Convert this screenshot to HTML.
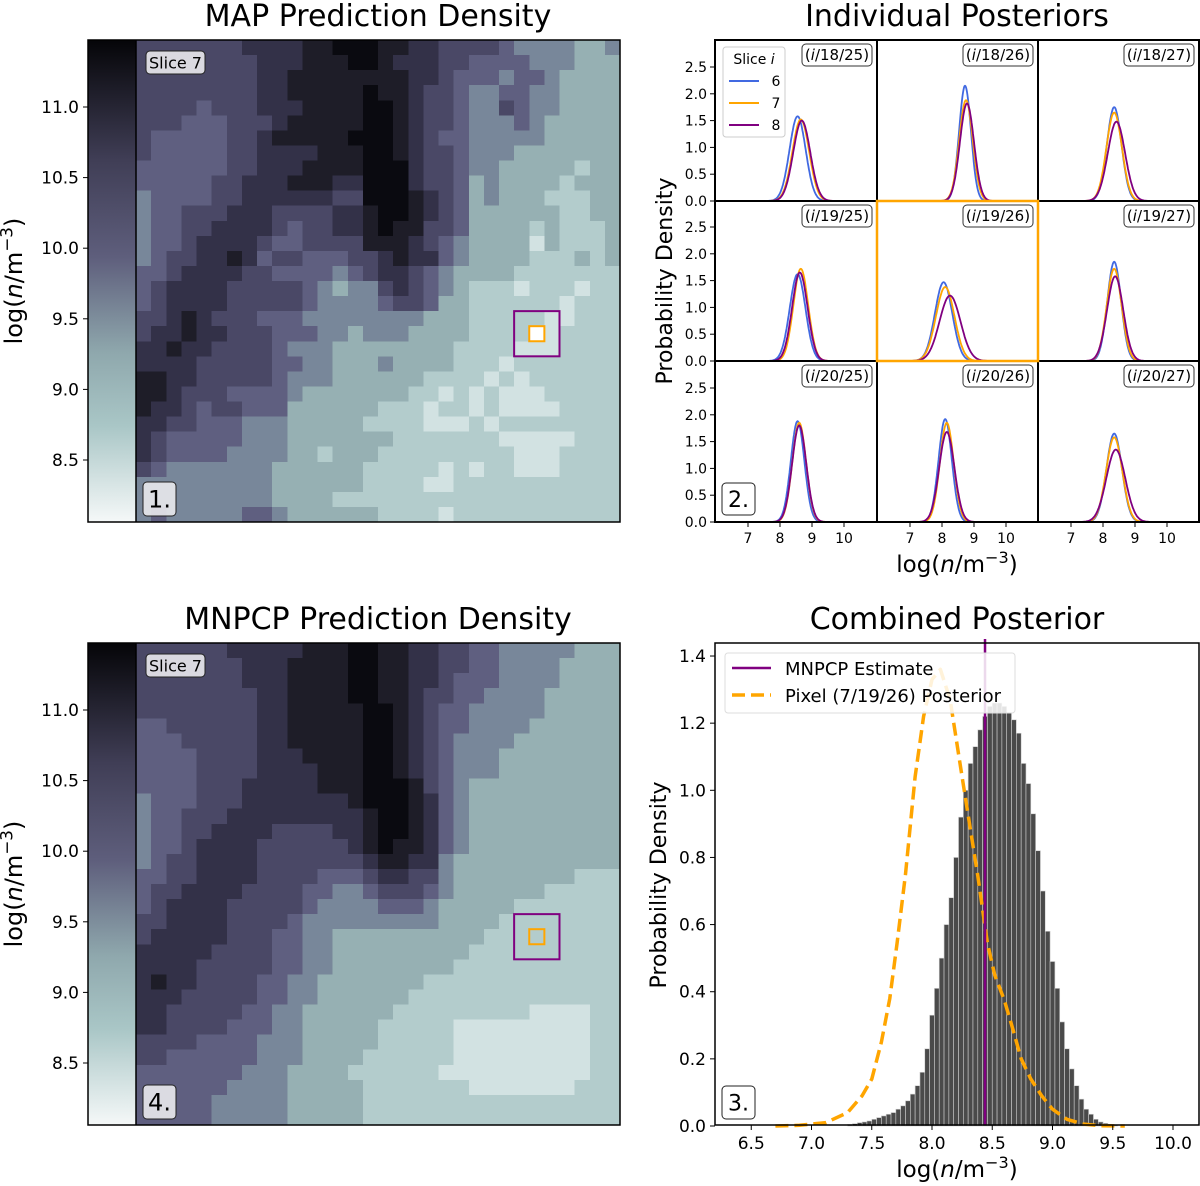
<!DOCTYPE html>
<html><head><meta charset="utf-8"><title>Density figure</title>
<style>
html,body{margin:0;padding:0;background:#fff;}
svg{display:block;font-family:"DejaVu Sans","Liberation Sans",sans-serif;}
</style></head>
<body>
<svg id="fig" width="1200" height="1186" viewBox="0 0 1200 1186" xmlns="http://www.w3.org/2000/svg">
<defs>
<linearGradient id="cbgrad" x1="0" y1="0" x2="0" y2="1">
<stop offset="0" stop-color="#050508"/>
<stop offset="0.25" stop-color="#403e56"/>
<stop offset="0.45" stop-color="#5e5e7c"/>
<stop offset="0.65" stop-color="#8fa8ad"/>
<stop offset="0.8" stop-color="#a9c6c6"/>
<stop offset="1" stop-color="#f5f8f8"/>
</linearGradient>
</defs>
</svg>
<script>
// ---------- data ----------
const mapRows = [
"66666667777889998877666654444334",
"66666666777888998777665555444333",
"66666666778888888877655545543333",
"66666666778888898876654455443333",
"66665666777888899876654465443333",
"66655566678888899876654445433333",
"65555566788888999876554444433333",
"65555566777788899876654443333333",
"55555566777888899976654433333233",
"55555667778887799976653433332333",
"45555667777776699987653433322233",
"45566677766667789987653333332233",
"45566777765667789886653333232223",
"45567777655666688876543333132223",
"45667787566555667877543333222323",
"55677776655554567765433332222222",
"56777766666543446765432221222122",
"56777766666544445665332222221222",
"66787666555444444443332222211222",
"67787766655544344433332222112222",
"77877666654443333333322221112222",
"77776666655443334333322212222222",
"88776666654443333332222121222222",
"88766655554333333322121211122222",
"87765665553333332221221211112222",
"77665554443333322221112122222222",
"76555554443333333222222211111222",
"76555544443323332222222221112222",
"65444444433333322222121221112222",
"44444444433333322221122222222222",
"44444444433332222222222222222222",
"45444445543333332222122222222222"];
const mnpcpRows = [
"66666677777888998877665544444333",
"66666667778888998877665544443333",
"66666667778888998877655544443333",
"66666666778888998876655444433333",
"66666666778888899876554444433333",
"55666666778888899876554444333333",
"55566666778888899876544443333333",
"55556666777888899876544433333333",
"55556666777788899876544433333333",
"55556667777788899986543333333333",
"45556667777777899987543333333333",
"45566677777777789987543333333333",
"45566777766667789987543333333333",
"45567777666666789887543333333333",
"45667777666666678877433333333333",
"55667777666655567766433333333222",
"56677776666554456665433333322222",
"56777766666544445554333332222222",
"66777766665444444444333322222222",
"67777766655443333333333222222222",
"77777666655443333333332222222222",
"77776666655443333333322222222222",
"78776666554433333332222222222222",
"77766666554433333322222222222222",
"77666665544333333222222222111122",
"77666655544333332222211111111122",
"66665555444333332222211111111122",
"66555555444333322222211111111122",
"55555554443333222222111111111122",
"55555544443333322222221111111222",
"55555444443333322222222222222222",
"55555444443333322222222222222222"];
const levelColors = ["#eef4f4","#d2e2e2","#b3cccc","#96b0b3","#78879a","#5f5f80","#4a4866","#333148","#1e1d28","#0a0a10"];
const mapTicks = [11.0,10.5,10.0,9.5,9.0,8.5];
const selRow = 19, selCol = 26;

// panel 2
const cellRows = [18,19,20];
const cellCols = [25,26,27];
const sliceLabels = ["6","7","8"];
const sliceColors = ["#4169e1","#ffa500","#800080"];
const cellMeans = [
 [8.55,8.65,8.68],[8.72,8.75,8.78],[8.35,8.35,8.42],
 [8.55,8.65,8.62],[8.05,8.10,8.25],[8.35,8.35,8.38],
 [8.55,8.60,8.60],[8.10,8.15,8.15],[8.35,8.35,8.40]];
const cellPeaks = [
 [1.58,1.52,1.50],[2.15,1.88,1.82],[1.75,1.65,1.48],
 [1.62,1.72,1.65],[1.47,1.38,1.22],[1.85,1.72,1.58],
 [1.88,1.85,1.80],[1.92,1.85,1.68],[1.65,1.58,1.35]];
const p2yTicks = [0.0,0.5,1.0,1.5,2.0,2.5];
const p2xTicks = [7,8,9,10];

// panel 3
const histStart = 7.30, histWidth = 0.04;
const histValues = [.005,.007,.01,.012,.015,.02,.025,.03,.035,.04,.05,.06,.075,.095,.12,.16,.23,.33,.41,.50,.60,.68,.80,.92,1.0,1.08,1.13,1.18,1.22,1.25,1.26,1.26,1.25,1.23,1.21,1.17,1.08,1.02,.93,.82,.70,.58,.49,.41,.31,.23,.17,.12,.08,.05,.035,.02,.012,.008,.005,.003];
const pixelX = [6.7,6.9,7.12,7.3,7.42,7.5,7.58,7.65,7.71,7.78,7.86,7.93,8.0,8.07,8.15,8.25,8.32,8.38,8.46,8.52,8.60,8.67,8.74,8.82,8.91,9.0,9.12,9.25,9.4,9.6];
const pixelY = [0,0.002,0.01,0.04,0.09,0.14,0.25,0.38,0.545,0.75,1.04,1.22,1.33,1.36,1.27,1.04,0.88,0.745,0.545,0.45,0.375,0.29,0.2,0.14,0.09,0.05,0.02,0.006,0.001,0];
const mnpcpEstimate = 8.44;
const p3xTicks = [6.5,7.0,7.5,8.0,8.5,9.0,9.5,10.0];
const p3yTicks = [0.0,0.2,0.4,0.6,0.8,1.0,1.2,1.4];

// ---------- helpers ----------
const NS = "http://www.w3.org/2000/svg";
const svg = document.getElementById("fig");
function mk(tag, attrs, parent) {
  const e = document.createElementNS(NS, tag);
  for (const k in attrs) e.setAttribute(k, attrs[k]);
  (parent || svg).appendChild(e);
  return e;
}
function txt(s, x, y, size, anchor, parent, extra) {
  const t = mk("text", Object.assign({x:x, y:y, "font-size":size, "text-anchor":anchor||"middle", fill:"#000"}, extra||{}), parent);
  t.textContent = s;
  return t;
}
function logLabel(x, y, size, rotate) {
  const t = mk("text", {x:x, y:y, "font-size":size, "text-anchor":"middle", fill:"#000"});
  if (rotate) t.setAttribute("transform", "rotate(-90 " + x + " " + y + ")");
  t.appendChild(document.createTextNode("log("));
  const n = mk("tspan", {"font-style":"italic"}, t); n.textContent = "n";
  t.appendChild(document.createTextNode("/m"));
  const s = mk("tspan", {"font-size":size*0.7, dy:-size*0.4}, t); s.textContent = "−3";
  const c = mk("tspan", {dy:size*0.4}, t); c.textContent = ")";
  return t;
}
function labelBox(s, x, y, w, h, size, parent, fill) {
  mk("rect", {x:x, y:y, width:w, height:h, rx:4, fill:fill||"#e6e6ea", "fill-opacity":0.92, stroke:"#222", "stroke-width":1}, parent);
  return txt(s, x + w/2, y + h/2 + size*0.36, size, "middle", parent);
}

// ---------- heatmap panels ----------
function heatPanel(rows, top, title, tag, num) {
  const g = mk("g", {});
  
  
  const L = 88, R = 620, T = top, B = top + 482, mapL = 136;
  const t = txt(title, 378, top - 14, 30, "middle", g);
  
  
  const cb = mk("rect", {x:L, y:T, width:mapL-L, height:B-T, fill:"url(#cbgrad)"}, g);
  
  
  const n = rows.length, cw = (R - mapL) / n, ch = (B - T) / n;
  const hm = mk("g", {"shape-rendering":"crispEdges"}, g);
  
  
  for (let r = 0; r < n; r++) for (let c = 0; c < rows[r].length; c++) {
    const v = +rows[r][c];
    const cell = mk("rect", {x:(mapL + c*cw).toFixed(2), y:(T + r*ch).toFixed(2), width:(cw+0.6).toFixed(2), height:(ch+0.6).toFixed(2), fill:levelColors[v]}, hm);
    
    
  }
  const pb = mk("rect", {x:mapL + (selCol-1)*cw, y:T + (selRow-1)*ch, width:3*cw, height:3*ch, fill:"none", stroke:"#800080", "stroke-width":2}, g);
  
  
  const ob = mk("rect", {x:mapL + selCol*cw, y:T + selRow*ch, width:cw, height:ch, fill: tag === "map" ? "#ffffff" : "none", stroke:"#ffa500", "stroke-width":2}, g);
  
  
  mk("line", {x1:mapL, y1:T, x2:mapL, y2:B, stroke:"#000", "stroke-width":1.5}, g);
  mk("rect", {x:L, y:T, width:R-L, height:B-T, fill:"none", stroke:"#000", "stroke-width":1.5}, g);
  const yv = v => top + 67 + (11.0 - v) * 141.2;
  mapTicks.forEach(v => {
    const y = yv(v);
    mk("line", {x1:L-5, y1:y, x2:L, y2:y, stroke:"#000", "stroke-width":1}, g);
    const tl = txt(v.toFixed(1), L-9, y+6, 17, "end", g);
    
    
  });
  const yl = logLabel(22, top + 241, 24, true);
  
  
  const s7 = labelBox("Slice 7", 146, T+11, 59, 23, 16, g);
  
  
  const nb = labelBox(num, 143, B-40, 33, 34, 24, g);
  
  
}
heatPanel(mapRows, 40, "MAP Prediction Density", "map", "1.");
heatPanel(mnpcpRows, 643, "MNPCP Prediction Density", "mnpcp", "4.");

// ---------- panel 2: individual posteriors ----------
(function(){
  const g = mk("g", {});
  
  
  const t = txt("Individual Posteriors", 957, 26, 30, "middle", g);
  
  
  const colL = [715, 877, 1038], colW = [162, 161, 161];
  const rowT = [40, 201, 361], rowH = [161, 160, 161];
  const pxU = 32, pyU = 53.6;
  for (let i = 0; i < 3; i++) for (let j = 0; j < 3; j++) {
    const k = i*3 + j;
    const L = colL[j], T = rowT[i], B = T + rowH[i];
    const cg = mk("g", {}, g);
    
    
    const xp = v => L + 33 + (v - 7) * pxU;
    const yp = v => B - v * pyU;
    for (let s = 0; s < 3; s++) {
      const mu = cellMeans[k][s], pk = cellPeaks[k][s];
      const sd = 1 / (pk * 2.5066);
      let d = "";
      for (let q = 0; q <= 120; q++) {
        const v = mu - 4*sd + q * 8*sd/120;
        const dens = pk * Math.exp(-0.5 * ((v - mu)/sd)**2);
        d += (q ? "L" : "M") + xp(v).toFixed(1) + " " + yp(dens).toFixed(1);
      }
      const p = mk("path", {d:d, fill:"none", stroke:sliceColors[s], "stroke-width":1.8}, cg);
      
      
    }
    const w = 70;
    mk("rect", {x:L + colW[j] - 5 - w, y:T + 4, width:w, height:22, rx:4, fill:"#fff", stroke:"#333", "stroke-width":1}, cg);
    const lbl = mk("text", {x:L + colW[j] - 40, y:T + 20, "font-size":15, "text-anchor":"middle"}, cg);
    lbl.appendChild(document.createTextNode("("));
    const it = mk("tspan", {"font-style":"italic"}, lbl); it.textContent = "i";
    lbl.appendChild(document.createTextNode("/" + cellRows[i] + "/" + cellCols[j] + ")"));
    
    
    if (j === 0) {
      p2yTicks.forEach(v => {
        mk("line", {x1:L-5, y1:yp(v), x2:L, y2:yp(v), stroke:"#000"}, cg);
        const tl = txt(v.toFixed(1), L-8, yp(v)+5, 14, "end", cg);
        
        
      });
    }
    if (i === 2) {
      p2xTicks.forEach(v => {
        mk("line", {x1:xp(v), y1:B, x2:xp(v), y2:B+5, stroke:"#000"}, cg);
        const tl = txt(String(v), xp(v), B+21, 14, "middle", cg);
        
        
      });
    }
  }
  for (let i = 0; i < 3; i++) for (let j = 0; j < 3; j++) {
    if (i === 1 && j === 1) continue;
    mk("rect", {x:colL[j], y:rowT[i], width:colW[j], height:rowH[i], fill:"none", stroke:"#000", "stroke-width":2}, g);
  }
  const hl = mk("rect", {x:colL[1], y:rowT[1], width:colW[1], height:rowH[1], fill:"none", stroke:"#ffa500", "stroke-width":2.5}, g);
  
  
  const lg = mk("g", {}, g);
  
  
  mk("rect", {x:723, y:47, width:62, height:90, rx:3, fill:"#fff", "fill-opacity":0.85, stroke:"#ccc"}, lg);
  const lt = mk("text", {x:754, y:64, "font-size":14, "text-anchor":"middle"}, lg);
  lt.appendChild(document.createTextNode("Slice "));
  const li = mk("tspan", {"font-style":"italic"}, lt); li.textContent = "i";
  sliceLabels.forEach((s, q) => {
    const y = 81 + q*22;
    const ln = mk("line", {x1:729, y1:y, x2:759, y2:y, stroke:sliceColors[q], "stroke-width":2}, lg);
    
    
    const tl = txt(s, 776, y+5, 14, "middle", lg);
    
    
  });
  const nb = labelBox("2.", 722, 483, 33, 32, 22, g, "#fff");
  
  
  const yl = txt("Probability Density", 672, 281, 22, "middle", g, {transform:"rotate(-90 672 281)"});
  
  
  const xl = logLabel(957, 572, 23, false);
  
  
})();

// ---------- panel 3: combined posterior ----------
(function(){
  const g = mk("g", {});
  
  
  const L = 715, R = 1199, T = 643, B = 1125;
  const xp = v => 932 + (v - 8.0) * 120.5;
  const yp = v => 1126 - v * 335.7;
  const t = txt("Combined Posterior", 957, 629, 30, "middle", g);
  
  
  const hg = mk("g", {}, g);
  
  
  histValues.forEach((v, q) => {
    const x0 = xp(histStart + q*histWidth), x1 = xp(histStart + (q+1)*histWidth);
    const b = mk("rect", {x:x0, y:yp(v), width:x1-x0, height:yp(0)-yp(v), fill:"#4a4a4a", stroke:"#cfcfcf", "stroke-width":0.6}, hg);
    
    
  });
  let d = "";
  pixelX.forEach((v, q) => { d += (q ? "L" : "M") + xp(v).toFixed(1) + " " + yp(pixelY[q]).toFixed(1); });
  const pc = mk("path", {d:d, fill:"none", stroke:"#ffa500", "stroke-width":3.5, "stroke-dasharray":"13 6", "stroke-linejoin":"round"}, g);
  
  
  const ml = mk("line", {x1:xp(mnpcpEstimate), y1:T-4, x2:xp(mnpcpEstimate), y2:B, stroke:"#800080", "stroke-width":2.5}, g);
  
  
  mk("rect", {x:L, y:T, width:R-L, height:B-T, fill:"none", stroke:"#000", "stroke-width":1.5}, g);
  p3xTicks.forEach(v => {
    mk("line", {x1:xp(v), y1:B, x2:xp(v), y2:B+5, stroke:"#000"}, g);
    const tl = txt(v.toFixed(1), xp(v), B+24, 17, "middle", g);
    
    
  });
  p3yTicks.forEach(v => {
    mk("line", {x1:L-5, y1:yp(v), x2:L, y2:yp(v), stroke:"#000"}, g);
    const tl = txt(v.toFixed(1), L-9, yp(v)+6, 17, "end", g);
    
    
  });
  const lg = mk("g", {}, g);
  
  
  mk("rect", {x:725, y:653, width:290, height:60, rx:3, fill:"#fff", "fill-opacity":0.85, stroke:"#ddd"}, lg);
  mk("line", {x1:732, y1:668, x2:771, y2:668, stroke:"#800080", "stroke-width":2.5}, lg);
  const e1 = txt("MNPCP Estimate", 785, 675, 18, "start", lg);
  
  
  mk("line", {x1:732, y1:695, x2:771, y2:695, stroke:"#ffa500", "stroke-width":3.5, "stroke-dasharray":"13 6"}, lg);
  const e2 = txt("Pixel (7/19/26) Posterior", 785, 702, 18, "start", lg);
  
  
  const n3 = labelBox("3.", 722, 1086, 33, 33, 22, g, "#fff");
  
  
  const yl = txt("Probability Density", 666, 885, 22, "middle", g, {transform:"rotate(-90 666 885)"});
  
  
  const xl = logLabel(957, 1177, 23, false);
  
  
})();
</script>
</body></html>
